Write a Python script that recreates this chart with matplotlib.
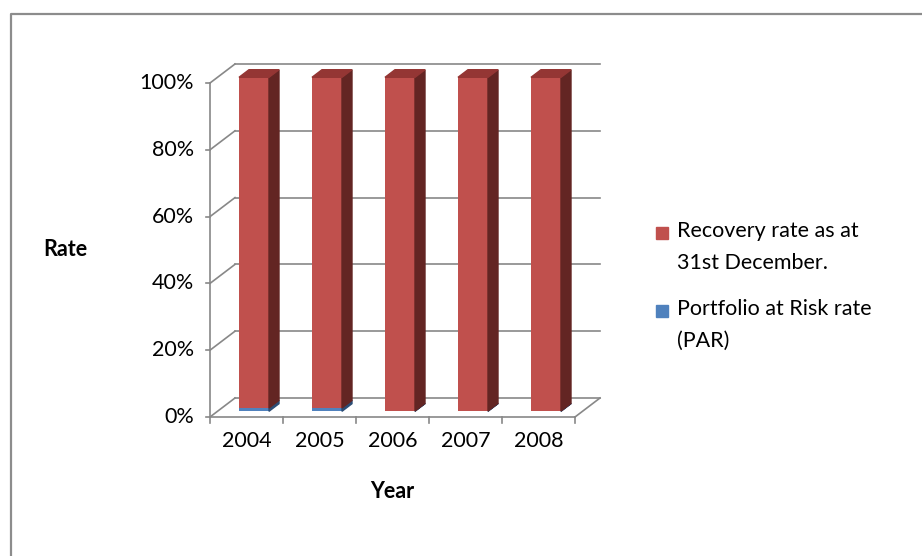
import matplotlib.pyplot as plt
from matplotlib.patches import Polygon, Rectangle
from matplotlib.lines import Line2D

plt.rcParams['font.family'] = ['Lato', 'DejaVu Sans']

years = ['2004', '2005', '2006', '2007', '2008']
recovery = [99.0, 99.0, 99.9, 99.9, 99.9]   # recovery rate as at 31st December (%)
par = [1.0, 1.0, 0.1, 0.1, 0.1]             # portfolio at risk rate (%)
yticks = [0, 20, 40, 60, 80, 100]

series = [
    ('Portfolio at Risk rate\n(PAR)', par, '#4F81BD', '#2C4D75', '#3A6496'),
    ('Recovery rate as at\n31st December.', recovery, '#C0504D', '#632523', '#943634'),
]

W, H = 922, 556
fig = plt.figure(figsize=(W / 100, H / 100), dpi=100)

# axes box is the front plane of the 3-d frame (pixel bounds)
X0, X1, Y0, Y1 = 210, 575, 417, 83
ax = fig.add_axes([X0 / W, 1 - Y0 / H, (X1 - X0) / W, (Y0 - Y1) / H])
n = len(years)
ax.set_xlim(-0.5, n - 0.5)
ax.set_ylim(0, 100)
ax.axis('off')

px = n / (X1 - X0)      # data units per pixel, x
py = 100 / (Y0 - Y1)    # data units per pixel, y
DX, DY = 25, 19         # wall depth in pixels
GRID = '#888888'
FS = 15.5


def off(x, y, f):
    return (x + f * DX * px, y + f * DY * py)


def seg(p, q, **kw):
    ax.add_line(Line2D([p[0], q[0]], [p[1], q[1]], color=GRID, lw=1.2,
                       clip_on=False, **kw))


# walls, floor and axes
left, right = -0.5, n - 0.5
for v in yticks:
    seg((left, v), off(left, v, 1))
    seg(off(left, v, 1), off(right, v, 1))
    seg((left - 4 * px, v), (left, v))
    ax.text(left - 16 * px, v, f'{v}%', ha='right', va='center', fontsize=FS)
seg((left, 0), (left, 100))
seg((left, 0), (right, 0))
seg((right, 0), off(right, 0, 1))
for k in range(n + 1):
    seg((left + k, 0), (left + k, -6 * py))
for i, yr in enumerate(years):
    ax.text(i, -24 * py, yr, ha='center', va='center', fontsize=FS)

ax.text(left - 145 * px, 50, 'Rate', ha='center', va='center',
        fontsize=FS, fontweight='bold')
ax.text(2, -75 * py, 'Year', ha='center', va='center',
        fontsize=FS, fontweight='bold')

# 100% stacked 3-d columns
totals = [a + b for a, b in zip(par, recovery)]
hw = 15 * px
f0, f1 = 0.3, 0.7
bottoms = [0.0] * n
for si, (name, vals, c_front, c_side, c_top) in enumerate(series):
    shares = [100 * v / t for v, t in zip(vals, totals)]
    xs = [off(i, 0, f0)[0] for i in range(n)]
    bs = [off(0, b, f0)[1] for b in bottoms]
    ax.bar(xs, shares, width=2 * hw, bottom=bs, color=c_front,
           clip_on=False, zorder=3)
    for i in range(n):
        b, t = bottoms[i], bottoms[i] + shares[i]
        side = [off(i + hw, b, f0), off(i + hw, t, f0),
                off(i + hw, t, f1), off(i + hw, b, f1)]
        ax.add_patch(Polygon(side, closed=True, color=c_side,
                             clip_on=False, zorder=3))
        if si == len(series) - 1:
            top = [off(i - hw, t, f0), off(i + hw, t, f0),
                   off(i + hw, t, f1), off(i - hw, t, f1)]
            ax.add_patch(Polygon(top, closed=True, color=c_top,
                                 clip_on=False, zorder=3))
    bottoms = [b + s for b, s in zip(bottoms, shares)]

# legend, recovery entry first
for k, (name, vals, c_front, c_side, c_top) in enumerate(series[::-1]):
    yc = 233 + k * 78
    fig.patches.append(Rectangle((656 / W, 1 - (yc + 6) / H), 12 / W, 12 / H,
                                 color=c_front, transform=fig.transFigure))
    fig.text(677 / W, 1 - (yc - 12) / H, name, ha='left', va='top',
             fontsize=FS, linespacing=1.75)

# chart frame
fig.add_artist(Line2D([11 / W, 11 / W, 1], [0, 1 - 14 / H, 1 - 14 / H],
                      color='#8c8c8c', lw=1.6, transform=fig.transFigure))

fig.savefig('out.png', dpi=100)
